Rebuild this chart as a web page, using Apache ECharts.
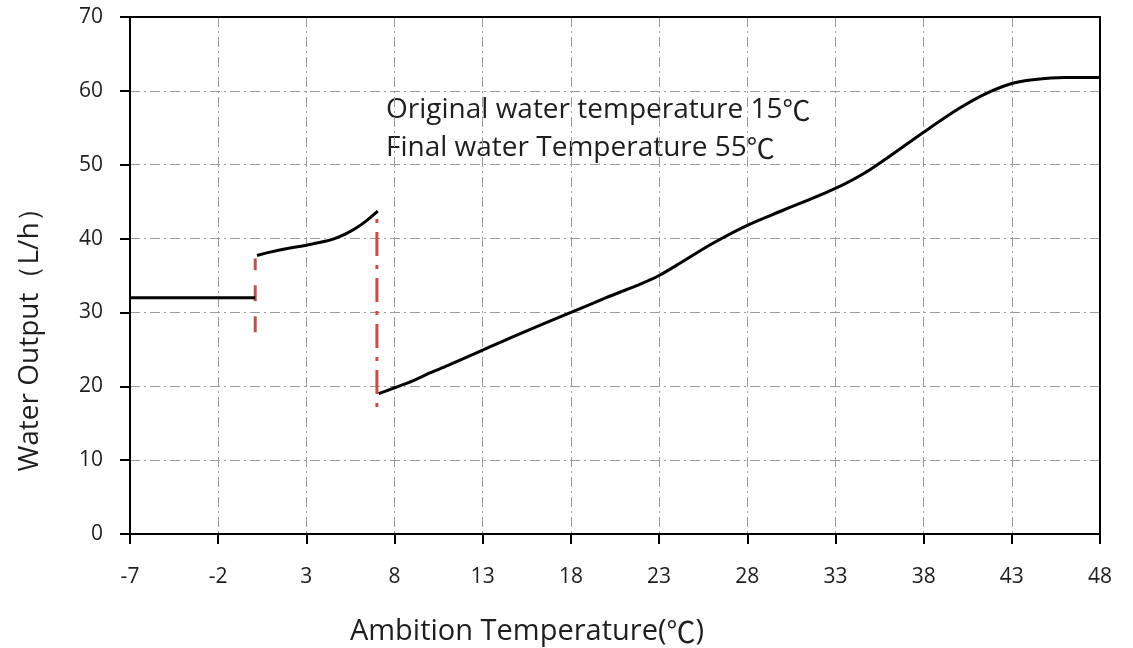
<!DOCTYPE html>
<html>
<head>
<meta charset="utf-8">
<script src="https://cdn.jsdelivr.net/npm/echarts@6/dist/echarts.min.js"></script>
<style>
html,body{margin:0;padding:0;background:#fff;}
#chart{width:1133px;height:648px;}
</style>
</head>
<body>
<div id="chart"></div>
<script>
// ---- data (ambient temperature ℃, water output L/h) ----
const tickLabels = ['-7','-2','3','8','13','18','23','28','33','38','43','48'];
const xMinTemp = -7;   // first tick label value
const xMaxTemp = 48;

const seg1 = [[-7, 32], [0.1, 32]];
const seg2 = [[0.2, 37.7], [1, 38.2], [2, 38.7], [3, 39.1], [4, 39.6], [4.6, 40.0], [5.2, 40.6], [5.8, 41.4], [6.4, 42.4], [7.05, 43.7]];
const seg3 = [[7.1, 19.0], [8, 19.8], [9, 20.7], [10, 21.8], [11, 22.8], [13, 24.9], [15, 27.0], [18, 30.0], [20, 32.0], [22, 33.9], [23, 35.0], [24, 36.4], [26, 39.3], [28, 41.8], [30, 43.8], [33, 46.8], [35, 49.4], [38, 54.4], [40, 57.6], [41.5, 59.6], [43, 61.0], [44.2, 61.5], [46, 61.8], [48, 61.8]];
const redDash = [[0.1, 27.3], [0.1, 37.3]];
const redDashDot = [[7.0, 17.2], [7.0, 43.0]];

const note1 = ['Original water temperature 15', '℃'];
const note2 = ['Final water Temperature 55', '℃'];
const xName = ['Ambition Temperature(', '℃', ')'];
const yName = 'Water Output（L/h）';

// shift x so axis min is 0 (ticks every 5 starting at -7)
const sx = arr => arr.map(p => [p[0] - xMinTemp, p[1]]);

const FONT = '"Open Sans", "Noto Sans", sans-serif';
const CJK = '"Noto Sans CJK SC", sans-serif';
const TXT = '#1e1e1e';
const TS = 28;
const richN = {c: {fontFamily: CJK, fontSize: 28, fill: TXT, color: TXT}};
const richX = {c: {fontFamily: CJK, fontSize: 29, fill: TXT, color: TXT}};

const chart = echarts.init(document.getElementById('chart'));
const lineBase = {type: 'line', showSymbol: false, symbol: 'none', silent: true, z: 3};
const frameAxis = {
  axisLine: {show: true, onZero: false, lineStyle: {color: '#000', width: 2}},
  axisTick: {show: false}, axisLabel: {show: false}, splitLine: {show: false}
};

chart.setOption({
  animation: false,
  backgroundColor: '#fff',
  grid: {left: 130, right: 33, top: 17, bottom: 114},
  xAxis: [{
    type: 'value', min: 0, max: xMaxTemp - xMinTemp, interval: 5,
    axisLine: {show: true, onZero: false, lineStyle: {color: '#000', width: 2}},
    axisTick: {show: true, inside: false, length: 10, lineStyle: {color: '#000', width: 2}},
    axisLabel: {margin: 33, fontSize: 21, color: TXT, fontFamily: FONT,
      formatter: v => tickLabels[Math.round(v / 5)]},
    splitLine: {show: true, lineStyle: {color: '#9a9a9a', width: 1, type: [10, 4, 2, 4]}}
  }, Object.assign({type: 'value', position: 'top', min: 0, max: xMaxTemp - xMinTemp}, frameAxis)],
  yAxis: [{
    type: 'value', min: 0, max: 70, interval: 10,
    axisLine: {show: true, lineStyle: {color: '#000', width: 2}},
    axisTick: {show: true, inside: false, length: 10, lineStyle: {color: '#000', width: 2}},
    axisLabel: {margin: 27, fontSize: 21, color: TXT, fontFamily: FONT},
    splitLine: {show: true, lineStyle: {color: '#9a9a9a', width: 1, type: [10, 4, 2, 4]}}
  }, Object.assign({type: 'value', position: 'right', min: 0, max: 70}, frameAxis)],
  series: [
    Object.assign({}, lineBase, {data: sx(seg1), lineStyle: {color: '#000', width: 3}}),
    Object.assign({}, lineBase, {data: sx(seg2), smooth: 0.4, lineStyle: {color: '#000', width: 3}}),
    Object.assign({}, lineBase, {data: sx(seg3), smooth: 0.3, lineStyle: {color: '#000', width: 3}}),
    Object.assign({}, lineBase, {data: sx(redDash), z: 2, lineStyle: {color: '#c0504d', width: 3, type: [16, 15]}}),
    Object.assign({}, lineBase, {data: sx(redDashDot), z: 2, lineStyle: {color: '#c0504d', width: 3, type: [4, 9, 24, 9]}})
  ],
  graphic: [
    {type: 'text', x: 386, y: 110, style: {text: note1[0] + '{c|' + note1[1] + '}', rich: richN, fontSize: TS, fontFamily: FONT, fill: TXT, verticalAlign: 'middle'}},
    {type: 'text', x: 386, y: 148, style: {text: note2[0] + '{c|' + note2[1] + '}', rich: richN, fontSize: TS, fontFamily: FONT, fill: TXT, verticalAlign: 'middle'}},
    {type: 'text', x: 527, y: 632, style: {text: xName[0] + '{c|' + xName[1] + '}' + xName[2], rich: richX, fontSize: 29, fontFamily: FONT, fill: TXT, align: 'center', verticalAlign: 'middle'}},
    {type: 'text', x: 30, y: 333, rotation: Math.PI / 2, style: {text: yName, fontSize: 28, fontFamily: FONT, fill: TXT, align: 'center', verticalAlign: 'middle'}}
  ]
});
</script>
</body>
</html>
